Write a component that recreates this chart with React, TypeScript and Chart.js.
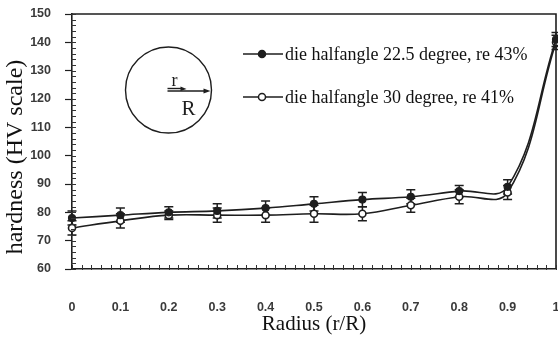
import React, { useEffect, useRef } from 'react';
import { Chart, registerables } from 'chart.js';

Chart.register(...registerables);

// ---- data ----
const radius = [0, 0.1, 0.2, 0.3, 0.4, 0.5, 0.6, 0.7, 0.8, 0.9, 1.0];
const hardness225 = [78, 79, 80, 80.5, 81.5, 83, 84.5, 85.5, 87.5, 89, 141];
const error225 = [2.5, 2.5, 2, 2.5, 2.5, 2.5, 2.5, 2.5, 2, 2.5, 2.5];
const hardness30 = [74.5, 77, 79, 79, 79, 79.5, 79.5, 82.5, 85.5, 87, 140];
const error30 = [2.5, 2.5, 1.5, 2.5, 2.5, 3, 2.5, 2.5, 2.5, 2.5, 2.5];
const seriesLabels = ['die halfangle 22.5 degree, re 43%', 'die halfangle 30 degree, re 41%'];
const xTitle = 'Radius (r/R)';
const yTitle = 'hardness (HV scale)';
const yMin = 60;
const yMax = 150;
const yStep = 10;
const xMin = 0;
const xMax = 1;
const xStep = 0.1;

const INK = '#1e1e1e';
const TICK_INK = '#3a3a3a';
const SERIF = '"Liberation Serif", "DejaVu Serif", serif';
const SANS = '"Liberation Sans", Arial, sans-serif';

const decorPlugin = {
  id: 'decor',
  beforeDatasetsDraw(chart: any) {
    const { ctx, scales } = chart;
    const x = scales.x;
    const y = scales.y;
    ctx.save();
    ctx.strokeStyle = INK;
    ctx.lineWidth = 1.5;
    const sets: [number[], number[]][] = [
      [hardness225, error225],
      [hardness30, error30],
    ];
    sets.forEach(([vals, errs]) => {
      vals.forEach((v, i) => {
        const px = x.getPixelForValue(radius[i]);
        const top = y.getPixelForValue(v + errs[i]);
        const bot = y.getPixelForValue(v - errs[i]);
        ctx.beginPath();
        ctx.moveTo(px, top);
        ctx.lineTo(px, bot);
        ctx.moveTo(px - 4.5, top);
        ctx.lineTo(px + 4.5, top);
        ctx.moveTo(px - 4.5, bot);
        ctx.lineTo(px + 4.5, bot);
        ctx.stroke();
      });
    });
    ctx.restore();
  },
  afterDraw(chart: any) {
    const { ctx, chartArea, scales } = chart;
    const x = scales.x;
    const y = scales.y;
    const { left, right, top, bottom } = chartArea;
    ctx.save();
    // frame (top & right)
    ctx.strokeStyle = INK;
    ctx.lineWidth = 1.6;
    ctx.beginPath();
    ctx.moveTo(left, top);
    ctx.lineTo(right, top);
    ctx.lineTo(right, bottom);
    ctx.stroke();

    // minor ticks
    ctx.lineWidth = 1;
    ctx.strokeStyle = '#333';
    ctx.beginPath();
    for (let v = yMin; v <= yMax; v += 2) {
      const py = Math.round(y.getPixelForValue(v)) + 0.5;
      ctx.moveTo(left - 1, py);
      ctx.lineTo(left + 4, py);
    }
    for (let i = 0; i <= 50; i++) {
      const px = Math.round(x.getPixelForValue(i / 50)) + 0.5;
      ctx.moveTo(px, bottom + 1);
      ctx.lineTo(px, bottom - 4);
    }
    ctx.stroke();

    // inset sketch: circle with r and R
    ctx.strokeStyle = INK;
    ctx.fillStyle = INK;
    ctx.lineWidth = 1.4;
    const cx = 168.5;
    const cy = 90;
    ctx.beginPath();
    ctx.arc(cx, cy, 43, 0, Math.PI * 2);
    ctx.stroke();
    // long arrow R
    ctx.beginPath();
    ctx.moveTo(cx - 1, cy + 1);
    ctx.lineTo(cx + 39, cy + 1);
    ctx.stroke();
    ctx.beginPath();
    ctx.moveTo(cx + 42, cy + 1);
    ctx.lineTo(cx + 35, cy - 1.5);
    ctx.lineTo(cx + 35, cy + 3.5);
    ctx.closePath();
    ctx.fill();
    // short arrow r
    ctx.beginPath();
    ctx.moveTo(cx - 1, cy - 1.5);
    ctx.lineTo(cx + 13, cy - 1.5);
    ctx.stroke();
    ctx.beginPath();
    ctx.moveTo(cx + 18, cy - 1);
    ctx.lineTo(cx + 12, cy - 3.5);
    ctx.lineTo(cx + 12, cy + 1);
    ctx.closePath();
    ctx.fill();
    ctx.font = `18px ${SERIF}`;
    ctx.textAlign = 'center';
    ctx.textBaseline = 'alphabetic';
    ctx.fillText('r', cx + 6, cy - 4);
    ctx.font = `21px ${SERIF}`;
    ctx.fillText('R', cx + 20, cy + 25);

    // legend
    const legendRows = [
      { y: 54, filled: true, text: seriesLabels[0] },
      { y: 97, filled: false, text: seriesLabels[1] },
    ];
    legendRows.forEach((row) => {
      ctx.strokeStyle = INK;
      ctx.lineWidth = 1.5;
      ctx.beginPath();
      ctx.moveTo(243, row.y);
      ctx.lineTo(283, row.y);
      ctx.stroke();
      ctx.beginPath();
      ctx.arc(262, row.y, 3.5, 0, Math.PI * 2);
      ctx.fillStyle = row.filled ? INK : '#ffffff';
      ctx.fill();
      ctx.stroke();
      ctx.fillStyle = '#111';
      ctx.font = `18px ${SERIF}`;
      ctx.textAlign = 'left';
      ctx.textBaseline = 'middle';
      ctx.fillText(row.text, 285, row.y + 1);
    });

    // y axis title
    ctx.save();
    ctx.translate(16, 157);
    ctx.rotate(-Math.PI / 2);
    ctx.font = `24px ${SERIF}`;
    ctx.fillStyle = '#111';
    ctx.textAlign = 'center';
    ctx.textBaseline = 'middle';
    ctx.fillText(yTitle, 0, 0);
    ctx.restore();

    ctx.restore();
  },
};

function fmt(v: number): string {
  const r = Math.round(v * 10) / 10;
  return String(r);
}

export default function App() {
  const canvasRef = useRef<HTMLCanvasElement | null>(null);

  useEffect(() => {
    const canvas = canvasRef.current;
    if (!canvas) return;
    const chart = new Chart(canvas, {
      type: 'line',
      data: {
        datasets: [
          {
            label: seriesLabels[0],
            data: radius.map((r, i) => ({ x: r, y: hardness225[i] })),
            borderColor: INK,
            borderWidth: 1.6,
            backgroundColor: INK,
            pointBackgroundColor: INK,
            pointBorderColor: INK,
            pointBorderWidth: 1.2,
            pointRadius: 3.5,
            tension: 0.4,
            clip: 8,
          },
          {
            label: seriesLabels[1],
            data: radius.map((r, i) => ({ x: r, y: hardness30[i] })),
            borderColor: INK,
            borderWidth: 1.6,
            backgroundColor: '#ffffff',
            pointBackgroundColor: '#ffffff',
            pointBorderColor: INK,
            pointBorderWidth: 1.6,
            pointRadius: 3.5,
            tension: 0.4,
            clip: 8,
          },
        ],
      },
      options: {
        animation: false,
        responsive: false,
        devicePixelRatio: 1,
        layout: { autoPadding: false, padding: { top: 14, right: 2, left: 0, bottom: 0 } },
        plugins: {
          legend: { display: false },
          tooltip: { enabled: false },
        },
        scales: {
          x: {
            type: 'linear',
            min: xMin,
            max: xMax,
            afterFit: (scale: any) => {
              scale.height = 70;
              scale.paddingLeft = 0;
              scale.paddingRight = 0;
            },
            ticks: {
              stepSize: xStep,
              padding: 31,
              color: TICK_INK,
              font: { family: SANS, size: 12.5, weight: 'bold' },
              callback: (v: any) => fmt(Number(v)),
              maxRotation: 0,
            },
            grid: { display: true, drawOnChartArea: false, drawTicks: false },
            border: { display: true, color: INK, width: 1.6 },
            title: {
              display: true,
              text: xTitle,
              color: '#111',
              font: { family: SERIF, size: 21 },
              padding: { top: 0, bottom: 2 },
            },
          },
          y: {
            type: 'linear',
            min: yMin,
            max: yMax,
            afterFit: (scale: any) => {
              scale.width = 72;
              scale.paddingTop = 0;
              scale.paddingBottom = 0;
            },
            ticks: {
              stepSize: yStep,
              padding: 14,
              color: TICK_INK,
              font: { family: SANS, size: 12.5, weight: 'bold' },
            },
            grid: {
              display: true,
              drawOnChartArea: false,
              drawTicks: true,
              tickLength: 7,
              tickColor: INK,
              tickWidth: 1.2,
            },
            border: { display: true, color: INK, width: 1.6 },
          },
        },
      },
      plugins: [decorPlugin],
    } as any);
    return () => chart.destroy();
  }, []);

  return (
    <div style={{ position: 'absolute', left: 0, top: 0, width: 558, height: 339, background: '#fff' }}>
      <canvas ref={canvasRef} width={558} height={339} style={{ display: 'block' }} />
    </div>
  );
}
